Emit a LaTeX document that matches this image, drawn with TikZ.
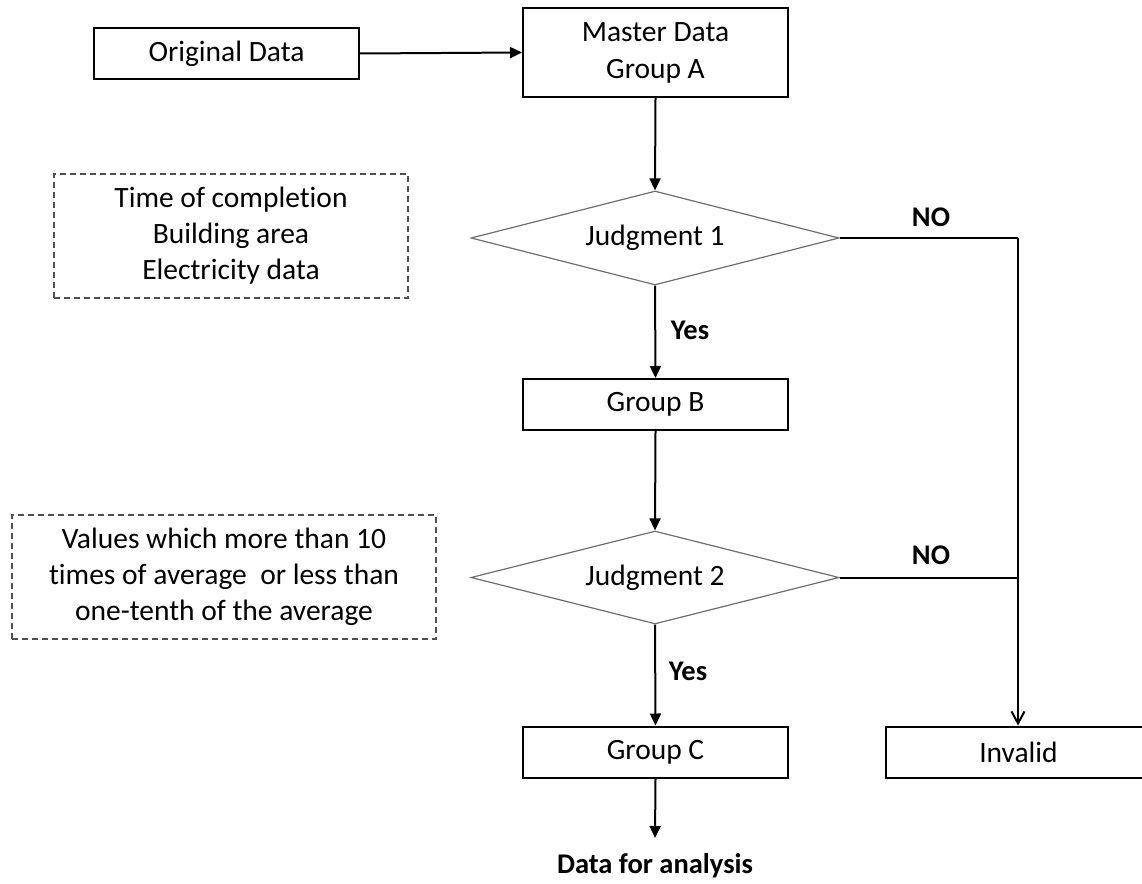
\documentclass[tikz,border=0pt]{standalone}
\usepackage{fontspec}
\setmainfont{Carlito}[Ligatures=NoCommon]
\usetikzlibrary{shapes.geometric,arrows.meta}
\definecolor{dgray}{HTML}{6E6E6E}
\definecolor{dashgray}{HTML}{505050}
\tikzset{
  box/.style={draw=black,line width=2pt,minimum width=265pt,minimum height=51pt,inner sep=0pt,align=center,font=\fontsize{29.5}{37}\selectfont},
  decide/.style={diamond,draw=dgray,line width=1.2pt,aspect=3.9,minimum width=368pt,minimum height=94pt,inner sep=0pt,font=\fontsize{29.5}{36}\selectfont},
  note/.style={draw=dashgray,dashed,dash pattern=on 6pt off 4pt,line width=1.5pt,inner sep=0pt,align=center,font=\fontsize{29.5}{36}\selectfont},
  lbl/.style={font=\fontsize{28.5}{34}\selectfont\bfseries,inner sep=0pt},
  conn/.style={line width=2pt,-{Triangle[length=12pt,width=11pt]}},
  openconn/.style={line width=2pt,-{Straight Barb[length=12pt,width=13pt,line width=2pt]}},
  plain/.style={line width=2pt}
}
\begin{document}
\begin{tikzpicture}[x=1pt,y=-1pt]
\useasboundingbox (0,0) rectangle (1142,883);
\node[box] (orig) at (226.5,53.5) {Original Data};
\node[box,minimum height=89pt] (master) at (655.5,52.5) {Master Data\\Group A};
\node[decide] (j1) at (655,238) {Judgment 1};
\node[note,minimum width=354pt,minimum height=124pt] (n1) at (231,236) {Time of completion\\Building area\\Electricity data};
\node[box] (gb) at (655.5,404.5) {Group B};
\node[decide,minimum height=93pt] (j2) at (655,577.5) {Judgment 2};
\node[note,minimum width=424pt,minimum height=124pt] (n2) at (224,577) {Values which more than 10\\times of average\ \ or less than\\one-tenth\ of the average};
\node[box] (gc) at (655.5,752) {Group C};
\node[box] (inv) at (1018.5,752) {Invalid};
\node[lbl] (yes1) at (690,330) {Yes};
\node[lbl] (yes2) at (688,671) {Yes};
\node[lbl] (no1) at (931,217) {NO};
\node[lbl] (no2) at (931,555) {NO};
\node[lbl] (out) at (655,866) {Data for analysis};
\coordinate (c1) at (1018,238);
\coordinate (c2) at (1018,577.5);
\coordinate (outtop) at (655,838);
\draw[conn] (orig.east) -- (master.west);
\draw[conn] (master.south) -- (j1.north);
\draw[conn] (j1.south) -- (gb.north);
\draw[conn] (gb.south) -- (j2.north);
\draw[conn] (j2.south) -- (gc.north);
\draw[conn] (gc.south) -- (outtop);
\draw[plain] (j1.east) -- (c1);
\draw[plain] (j2.east) -- (c2);
\draw[openconn] (c1) -- (c1 |- inv.north);
\end{tikzpicture}
\end{document}
